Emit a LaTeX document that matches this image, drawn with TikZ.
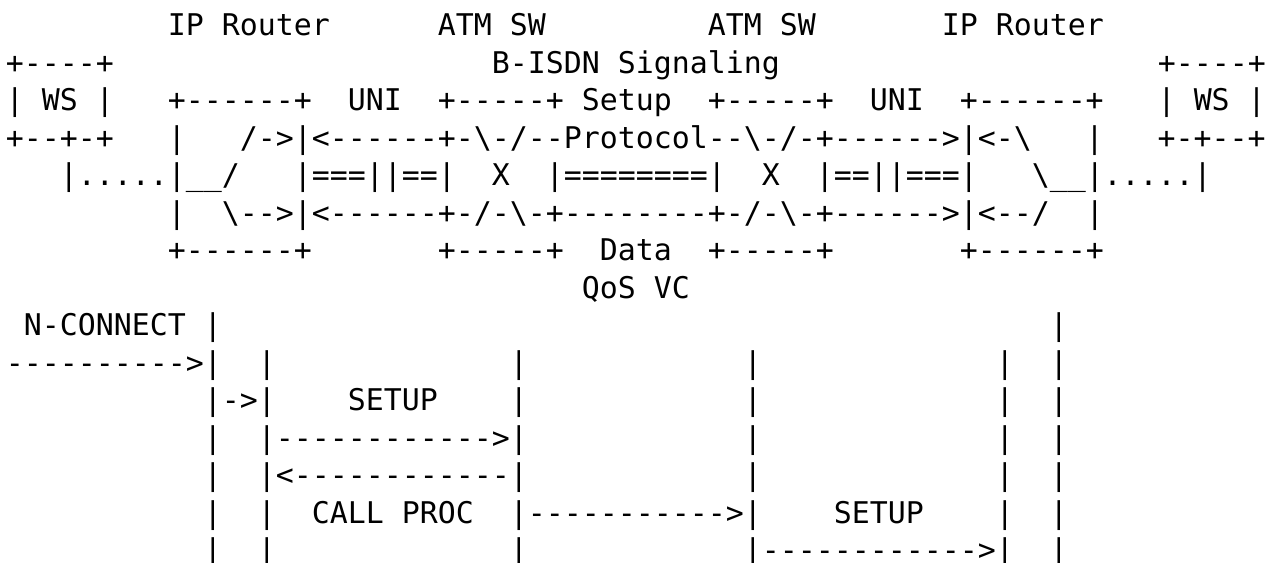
\documentclass[tikz,border=0pt]{standalone}
\usepackage{fontspec}
\setmonofont{DejaVu Sans Mono}
\newlength\cw
\newcommand\rowfont{\ttfamily\fontsize{22.42pt}{28pt}\selectfont\frenchspacing}
\newcommand\sk[1]{\hspace*{#1\cw}}
\newcommand\bs{\textbackslash}
\AtBeginDocument{\settowidth\cw{\rowfont x}}
\tikzset{asciirow/.style={anchor=base west, inner sep=0pt, outer sep=0pt, font=\rowfont, text=black}}
\begin{document}
\begin{tikzpicture}[x=0.75pt,y=-0.75pt]
\fill[white] (0,0) rectangle (1281,563);
\useasboundingbox (0,0) rectangle (1281,563);
\node[asciirow] (r1) at (6,35.9) {\sk{9}IP\sk{1}Router\sk{6}ATM\sk{1}SW\sk{9}ATM\sk{1}SW\sk{7}IP\sk{1}Router};
\node[asciirow] (r2) at (6,73.4) {+----+\sk{21}B-ISDN\sk{1}Signaling\sk{21}+----+};
\node[asciirow] (r3) at (6,110.9) {|\sk{1}WS\sk{1}|\sk{3}+------+\sk{2}UNI\sk{2}+-----+\sk{1}Setup\sk{2}+-----+\sk{2}UNI\sk{2}+------+\sk{3}|\sk{1}WS\sk{1}|};
\node[asciirow] (r4) at (6,148.4) {+--+-+\sk{3}|\sk{3}/->|<------+-\bs-/--Protocol--\bs-/-+------>|<-\bs\sk{3}|\sk{3}+-+--+};
\node[asciirow] (r5) at (6,185.9) {\sk{3}|.....|\_\_/\sk{3}|===||==|\sk{2}X\sk{2}|========|\sk{2}X\sk{2}|==||===|\sk{3}\bs\_\_|.....|};
\node[asciirow] (r6) at (6,223.4) {\sk{9}|\sk{2}\bs-->|<------+-/-\bs-+--------+-/-\bs-+------>|<--/\sk{2}|};
\node[asciirow] (r7) at (6,260.9) {\sk{9}+------+\sk{7}+-----+\sk{2}Data\sk{2}+-----+\sk{7}+------+};
\node[asciirow] (r8) at (6,298.4) {\sk{32}QoS\sk{1}VC};
\node[asciirow] (r9) at (6,335.9) {\sk{1}N-CONNECT\sk{1}|\sk{46}|};
\node[asciirow] (r10) at (6,373.4) {---------->|\sk{2}|\sk{13}|\sk{12}|\sk{13}|\sk{2}|};
\node[asciirow] (r11) at (6,410.9) {\sk{11}|->|\sk{4}SETUP\sk{4}|\sk{12}|\sk{13}|\sk{2}|};
\node[asciirow] (r12) at (6,448.4) {\sk{11}|\sk{2}|------------>|\sk{12}|\sk{13}|\sk{2}|};
\node[asciirow] (r13) at (6,485.9) {\sk{11}|\sk{2}|<------------|\sk{12}|\sk{13}|\sk{2}|};
\node[asciirow] (r14) at (6,523.4) {\sk{11}|\sk{2}|\sk{2}CALL\sk{1}PROC\sk{2}|----------->|\sk{4}SETUP\sk{4}|\sk{2}|};
\node[asciirow] (r15) at (6,560.9) {\sk{11}|\sk{2}|\sk{13}|\sk{12}|------------>|\sk{2}|};
\end{tikzpicture}
\end{document}
